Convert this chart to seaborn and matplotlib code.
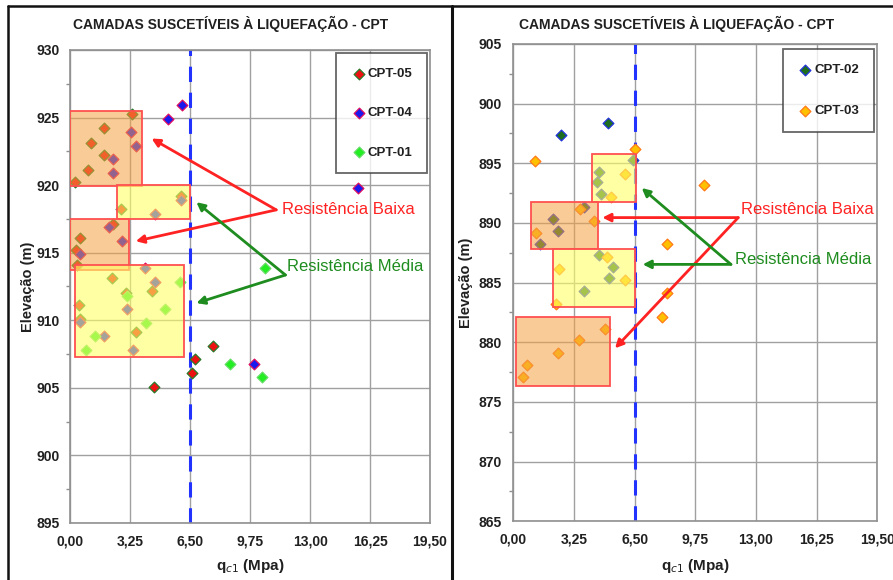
import numpy as np
import pandas as pd
import matplotlib
matplotlib.use('Agg')
import matplotlib.pyplot as plt
from matplotlib.patches import Rectangle
from matplotlib.lines import Line2D
from matplotlib.ticker import FuncFormatter, MultipleLocator
import seaborn as sns

sns.set_theme(style='white')
plt.rcParams['font.family'] = ['Liberation Sans', 'DejaVu Sans']

# --- dados: painel esquerdo (qc1 em MPa, elevação em m) ---
cpt05_q = [3.34, 1.82, 1.14, 1.82, 0.94, 0.22, 5.97, 2.76, 2.33, 0.52, 0.30, 0.36,
           2.25, 4.42, 3.00, 0.45, 0.52, 3.57, 7.75, 6.77, 6.59, 4.55]
cpt05_elev = [925.3, 924.2, 923.1, 922.2, 921.1, 920.2, 919.2, 918.2, 917.1, 916.1, 915.2, 914.1,
              913.1, 912.2, 912.0, 911.1, 910.1, 909.1, 908.1, 907.1, 906.1, 905.05]
cpt04_q = [6.07, 5.31, 3.28, 3.57, 2.29, 2.29, 15.62, 6.01, 4.57, 2.07, 2.78, 0.52,
           4.04, 4.60, 3.05, 0.52, 1.82, 3.37, 9.97]
cpt04_elev = [925.9, 924.9, 923.9, 922.9, 921.9, 920.9, 919.8, 918.9, 917.9, 916.9, 915.9, 914.9,
              913.9, 912.85, 910.85, 909.9, 908.8, 907.8, 906.8]
cpt01_q = [10.54, 5.94, 3.07, 5.15, 4.08, 1.35, 0.85, 8.67, 10.40]
cpt01_elev = [913.9, 912.85, 911.8, 910.8, 909.8, 908.8, 907.8, 906.8, 905.8]

# --- dados: painel direito ---
cpt02_q = [5.07, 2.54, 6.39, 4.61, 4.47, 4.71, 3.80, 2.11, 2.38, 1.41, 4.59, 5.36, 5.13, 3.80]
cpt02_elev = [898.4, 897.36, 895.3, 894.3, 893.4, 892.4, 891.3, 890.3, 889.3, 888.26,
              887.34, 886.3, 885.35, 884.3]
cpt03_q = [6.52, 1.18, 6.00, 10.21, 5.23, 3.59, 4.32, 1.23, 8.22, 5.04, 2.45, 5.97,
           8.25, 2.27, 7.96, 4.93, 3.50, 2.38, 0.73, 0.52]
cpt03_elev = [896.2, 895.18, 894.1, 893.2, 892.2, 891.2, 890.15, 889.15, 888.2, 887.14,
              886.13, 885.18, 884.12, 883.17, 882.16, 881.1, 880.17, 879.14, 878.1, 877.13]

# camadas (q0, q1, elev_base, elev_topo, tipo)
layers_left = [(0.0, 3.9, 919.9, 925.5, 'baixa'), (2.5, 6.5, 917.5, 920.0, 'media'),
               (0.0, 3.2, 913.75, 917.5, 'baixa'), (0.25, 6.15, 907.3, 914.1, 'media')]
layers_right = [(4.21, 6.57, 891.73, 895.8, 'media'), (0.96, 4.54, 887.85, 891.73, 'baixa'),
                (2.14, 6.52, 882.95, 887.85, 'media'), (0.14, 5.2, 876.35, 882.1, 'baixa')]

q_limit = 6.5
x_ticks = [0, 3.25, 6.5, 9.75, 13.0, 16.25, 19.5]

fill_cor = {'baixa': (0.96, 0.63, 0.25, 0.55), 'media': (1.0, 1.0, 0.4, 0.6)}

fig = plt.figure(figsize=(8.93, 5.80), dpi=100)
ax1 = fig.add_axes([0.0789, 0.0983, 0.4026, 0.8155])
ax2 = fig.add_axes([0.5748, 0.1012, 0.4076, 0.8230])


def serie(ax, q, elev, label, face, edge):
    df = pd.DataFrame({'q': q, 'elev': elev})
    sns.scatterplot(data=df, x='q', y='elev', ax=ax, marker='D', s=30, color=face,
                    edgecolor=edge, linewidth=0.9, label=label, zorder=3)


def estilo(ax, ymin, ymax):
    ax.set_xlim(0, 19.5)
    ax.set_ylim(ymin, ymax)
    ax.set_xticks(x_ticks)
    ax.set_yticks(np.arange(ymin, ymax + 1, 5))
    ax.yaxis.set_minor_locator(MultipleLocator(2.5))
    ax.xaxis.set_major_formatter(FuncFormatter(lambda v, p: f'{v:.2f}'.replace('.', ',')))
    ax.grid(True, which='major', color='#a0a0a0', lw=1)
    ax.set_axisbelow(True)
    for sp in ax.spines.values():
        sp.set_color('#909090')
        sp.set_linewidth(1.2)
    ax.tick_params(axis='both', which='major', direction='out', length=5, width=1,
                   color='#909090', labelsize=10, pad=3)
    ax.tick_params(axis='y', which='minor', direction='out', length=3, width=1,
                   color='#909090', left=True)
    for t in ax.get_xticklabels() + ax.get_yticklabels():
        t.set_fontweight('bold')
        t.set_color('#202020')
    ax.axvline(q_limit, color='#2233ff', lw=2.2, ls=(0, (5, 3.5)), zorder=2)
    ax.set_xlabel('q$_{c1}$ (Mpa)', fontsize=11, fontweight='bold', color='#202020')
    ax.set_ylabel('Elevação (m)', fontsize=10.5, fontweight='bold', color='#202020')


def camadas(ax, layers):
    for q0, q1, e0, e1, tipo in layers:
        ax.add_patch(Rectangle((q0, e0), q1 - q0, e1 - e0, facecolor=fill_cor[tipo],
                               edgecolor='#ff5050', lw=1.3, zorder=4))


def setas(ax, origem, alvos, cor):
    for alvo in alvos:
        ax.annotate('', xy=alvo, xytext=origem,
                    arrowprops=dict(arrowstyle='-|>', color=cor, lw=2, mutation_scale=12,
                                    shrinkA=0, shrinkB=0), zorder=5)


# painel esquerdo
serie(ax1, cpt05_q, cpt05_elev, 'CPT-05', '#ee1111', '#2a7a2a')
serie(ax1, cpt04_q, cpt04_elev, 'CPT-04', '#1a1aee', '#e01060')
serie(ax1, cpt01_q, cpt01_elev, 'CPT-01', '#22ee22', '#66dd66')
estilo(ax1, 895, 930)
camadas(ax1, layers_left)
setas(ax1, (11.16, 918.17), [(4.4, 923.45), (3.54, 915.85)], '#ff2222')
setas(ax1, (11.66, 913.35), [(6.83, 918.74), (6.83, 911.27)], '#1e8c1e')
ax1.text(11.46, 918.2, 'Resistência Baixa', color='#ff2222', fontsize=12, va='center')
ax1.text(11.73, 913.96, 'Resistência Média', color='#1e8c1e', fontsize=12, va='center')
ax1.yaxis.set_label_coords(-0.099, 0.5)
ax1.xaxis.set_label_coords(0.5, -0.072)

# painel direito
serie(ax2, cpt02_q, cpt02_elev, 'CPT-02', '#1f6e1f', '#2233dd')
serie(ax2, cpt03_q, cpt03_elev, 'CPT-03', '#ffc000', '#ff7a1a')
estilo(ax2, 865, 905)
camadas(ax2, layers_right)
setas(ax2, (12.05, 890.45), [(4.77, 890.45), (5.45, 879.5)], '#ff2222')
setas(ax2, (11.66, 886.53), [(6.88, 892.93), (6.93, 886.53)], '#1e8c1e')
ax2.text(12.2, 891.1, 'Resistência Baixa', color='#ff2222', fontsize=12, va='center')
ax2.text(11.9, 886.95, 'Resistência Média', color='#1e8c1e', fontsize=12, va='center')
ax2.yaxis.set_label_coords(-0.111, 0.5)
ax2.xaxis.set_label_coords(0.5, -0.075)

for ax, anchor, sp in [(ax1, (0.9925, 0.993), 2.05), (ax2, (0.991, 0.989), 2.2)]:
    leg = ax.legend(loc='upper right', bbox_to_anchor=anchor, fontsize=9.5, frameon=True,
                    fancybox=False, edgecolor='#404040', labelspacing=sp, borderpad=1.1,
                    handletextpad=0.1, handlelength=1.2, borderaxespad=0, markerscale=1.0)
    leg.get_frame().set_linewidth(1.3)
    leg.set_zorder(6)
    for t in leg.get_texts():
        t.set_fontweight('bold')
        t.set_color('#202020')

titulo = 'CAMADAS SUSCETÍVEIS À LIQUEFAÇÃO - CPT'
fig.text(231 / 893, 1 - 24 / 580, titulo, ha='center', va='center', fontsize=10, fontweight='bold',
         color='#202020')
fig.text(677 / 893, 1 - 24 / 580, titulo, ha='center', va='center', fontsize=10, fontweight='bold',
         color='#202020')

# molduras dos painéis
fig.add_artist(Line2D([8 / 893, 1], [1 - 6 / 580, 1 - 6 / 580], color='#111111', lw=1.8))
fig.add_artist(Line2D([8 / 893, 8 / 893], [0, 1 - 6 / 580], color='#111111', lw=1.8))
fig.add_artist(Line2D([451.5 / 893, 451.5 / 893], [0, 1 - 6 / 580], color='#111111', lw=2.2))

fig.savefig('out.png', dpi=100)
